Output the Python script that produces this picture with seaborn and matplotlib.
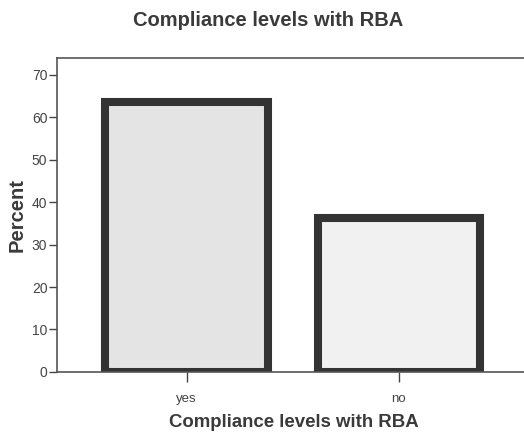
import matplotlib
matplotlib.use("Agg")
import matplotlib.pyplot as plt
import seaborn as sns
import pandas as pd

categories = ["yes", "no"]
percent = [63.7, 36.3]
yticks = [0, 10, 20, 30, 40, 50, 60, 70]
title = "Compliance levels with RBA"

sns.set_theme(style="white")
plt.rcParams["font.family"] = ["Liberation Sans", "DejaVu Sans"]

df = pd.DataFrame({"cat": categories, "pct": percent})

fig = plt.figure(figsize=(5.24, 4.36), dpi=100)
ax = fig.add_axes([0.109, 0.147, 0.903, 0.72])

sns.barplot(data=df, x="cat", y="pct", hue="cat", order=categories,
            palette={"yes": "#e4e4e4", "no": "#f1f1f1"}, legend=False,
            width=0.764, edgecolor="#333333", linewidth=5.8, ax=ax)

ax.set_xlim(-0.61, 1.62)
ax.set_ylim(0, 74)
ax.set_yticks(yticks)
ax.set_yticklabels([str(t) for t in yticks], fontsize=10, color="#444444")
ax.set_xticks([0, 1])
ax.set_xticklabels(categories, fontsize=9.5, color="#444444")
ax.tick_params(axis="y", direction="out", length=6, width=1, color="#444444",
               left=True, pad=1)
ax.tick_params(axis="x", direction="out", length=7, width=1, color="#444444",
               bottom=True, pad=8)
for side in ("left", "bottom", "top"):
    ax.spines[side].set_color("#555555")
    ax.spines[side].set_linewidth(1.2)
ax.spines["right"].set_visible(False)

ax.set_xlabel(title, fontsize=13.4, fontweight="bold", color="#3a3a3a", labelpad=7)
ax.set_ylabel("Percent", fontsize=14.5, fontweight="bold", color="#3a3a3a", labelpad=4)
fig.text(0.512, 0.953, title, ha="center", va="center", fontsize=14.5,
         fontweight="bold", color="#3a3a3a")

fig.savefig("out.png", dpi=100)
